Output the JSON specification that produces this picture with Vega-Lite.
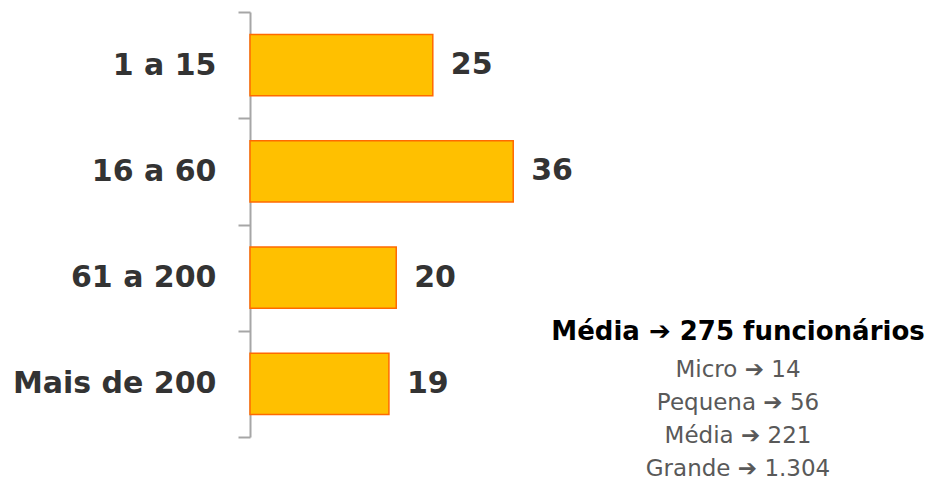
{
  "$schema": "https://vega.github.io/schema/vega-lite/v6.json",
  "width": 680,
  "height": 425,
  "autosize": "none",
  "padding": {"left": 250, "top": 12, "right": 0, "bottom": 50},
  "background": "white",
  "data": {
    "values": [
      {"faixa": "1 a 15", "valor": 25},
      {"faixa": "16 a 60", "valor": 36},
      {"faixa": "61 a 200", "valor": 20},
      {"faixa": "Mais de 200", "valor": 19}
    ]
  },
  "title": {
    "text": "Média ➔ 275 funcionários",
    "subtitle": ["Micro ➔ 14", "Pequena ➔ 56", "Média ➔ 221", "Grande ➔ 1.304"],
    "orient": "bottom",
    "anchor": "middle",
    "frame": "group",
    "offset": -119,
    "dx": 148,
    "align": "center",
    "font": "DejaVu Sans",
    "fontSize": 26,
    "fontWeight": "bold",
    "color": "#000000",
    "subtitleFont": "DejaVu Sans",
    "subtitleFontSize": 23,
    "subtitleColor": "#595959",
    "subtitleLineHeight": 33,
    "subtitlePadding": 14
  },
  "encoding": {
    "y": {
      "field": "faixa",
      "type": "nominal",
      "sort": null,
      "scale": {"paddingInner": 0, "paddingOuter": 0},
      "axis": {
        "title": null,
        "domainColor": "#A6A6A6",
        "domainWidth": 2,
        "tickColor": "#A6A6A6",
        "tickWidth": 2,
        "tickSize": 12,
        "tickBand": "extent",
        "labelFont": "DejaVu Sans",
        "labelFontWeight": "bold",
        "labelFontSize": 30,
        "labelColor": "#333333",
        "labelPadding": 22,
        "labelLimit": 0
      }
    },
    "x": {
      "field": "valor",
      "type": "quantitative",
      "scale": {"domain": [0, 93]},
      "axis": null
    }
  },
  "layer": [
    {"mark": {"type": "bar", "height": {"band": 0.575}, "fill": "#FFC000", "stroke": "#FF6A00", "strokeWidth": 1.5}},
    {
      "mark": {"type": "text", "align": "left", "dx": 18, "font": "DejaVu Sans", "fontWeight": "bold", "fontSize": 30, "color": "#333333"},
      "encoding": {"text": {"field": "valor", "type": "quantitative"}}
    }
  ],
  "config": {"view": {"stroke": null}}
}
